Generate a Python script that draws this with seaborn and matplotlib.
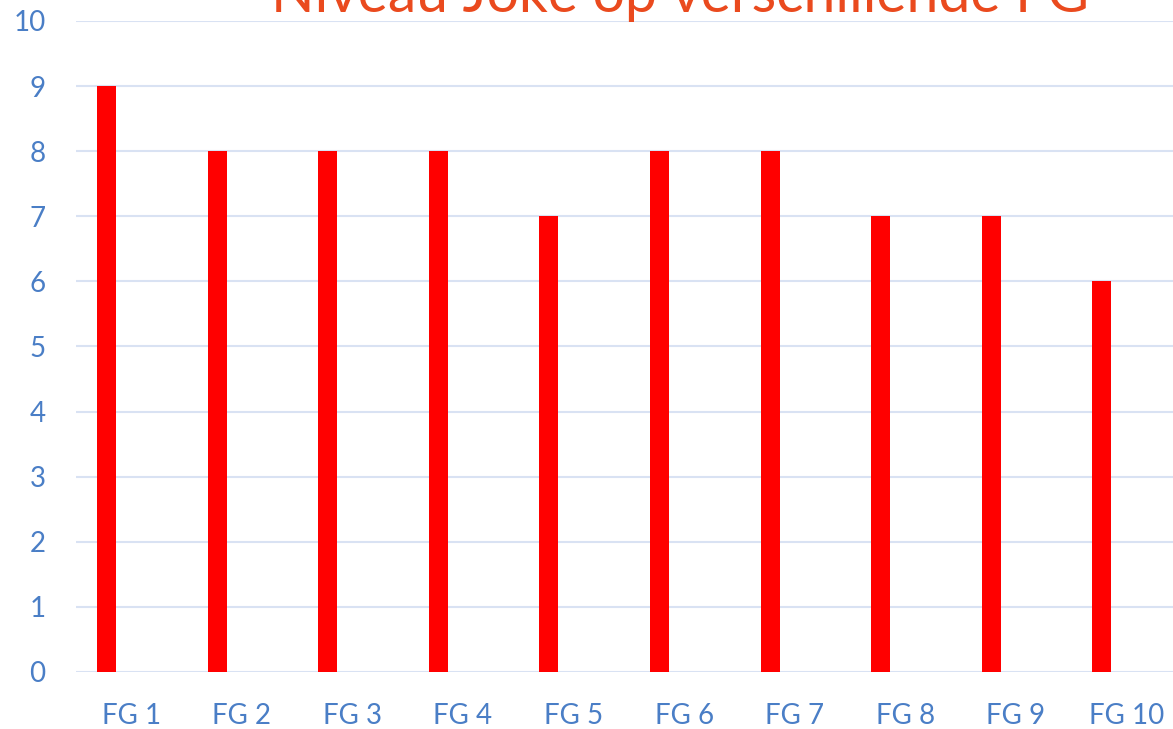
import numpy as np
import pandas as pd
import matplotlib.pyplot as plt
import seaborn as sns

categories = ["FG 1", "FG 2", "FG 3", "FG 4", "FG 5", "FG 6", "FG 7", "FG 8", "FG 9", "FG 10"]
niveau = [9, 8, 8, 8, 7, 8, 8, 7, 7, 6]
y_ticks = list(range(0, 11))
title = "Niveau Joke op verschillende FG"

df = pd.DataFrame({"FG": categories, "Niveau": niveau})

sns.set_style("white")
plt.rcParams["font.family"] = ["Lato", "DejaVu Sans"]

label_blue = "#4A7EC6"
grid_col = "#D9E2F3"

fig = plt.figure(figsize=(11.73, 7.29), dpi=100)
ax = fig.add_axes([0.0648, 0.0782, 0.9352, 0.893])

sns.barplot(data=df, x="FG", y="Niveau", color="#FF0000", width=0.172,
            saturation=1, ax=ax, zorder=3)

# bars sit left of the category centre (excel style)
for p in ax.patches:
    p.set_x(p.get_x() - 0.224)
    p.set_edgecolor("none")

ax.set_xlim(-0.5, 9.42)
ax.set_ylim(0, 10)
ax.set_yticks(y_ticks)
ax.set_yticklabels([str(t) for t in y_ticks])
ax.yaxis.grid(True, color=grid_col, linewidth=1.5, zorder=0)
ax.set_axisbelow(True)
for s in ax.spines.values():
    s.set_visible(False)
ax.axhline(0, color=grid_col, linewidth=1.8, zorder=2)

ax.tick_params(axis="both", length=0, labelsize=20, labelcolor=label_blue)
ax.tick_params(axis="y", pad=22)
ax.tick_params(axis="x", pad=22)
ax.set_xlabel("")
ax.set_ylabel("")

# title is partly cut off at the top, as in the original
fig.text(0.58, 0.983, title, color="#EA4A1E", fontsize=41,
         ha="center", va="baseline")

fig.savefig("out.png", dpi=100)
